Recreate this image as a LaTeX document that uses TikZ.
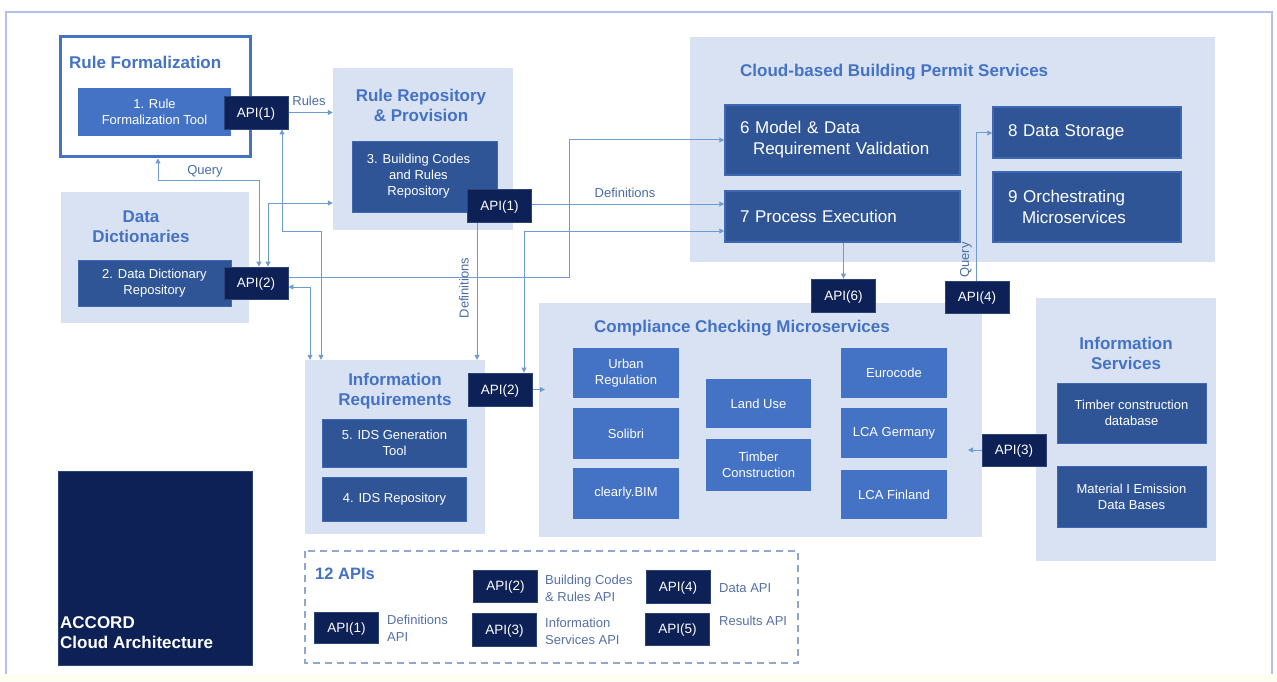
\documentclass[tikz,border=0pt]{standalone}
\usepackage{fontspec}
\setmainfont{Liberation Sans}
\usetikzlibrary{arrows.meta}
\definecolor{panelfill}{HTML}{D9E2F3}
\definecolor{ttl}{HTML}{4472C4}
\definecolor{midb}{HTML}{4472C4}
\definecolor{darkb}{HTML}{2F5597}
\definecolor{darkbline}{HTML}{3E68B4}
\definecolor{navy}{HTML}{0D2157}
\definecolor{navyline}{HTML}{2A4478}
\definecolor{wirec}{HTML}{6E9BD1}
\definecolor{lblc}{HTML}{4A6DA7}
\definecolor{legc}{HTML}{5671A6}
\definecolor{framec}{HTML}{B3C0EC}
\definecolor{dashc}{HTML}{8FA8CC}
\definecolor{creamc}{HTML}{FEFDF1}
\pgfdeclarelayer{panels}
\pgfdeclarelayer{wires}
\pgfsetlayers{panels,wires,main}
\begin{document}
\begin{tikzpicture}[x=1pt,y=-1pt,
  >={Triangle[length=5pt,width=5pt]},
  panel/.style={fill=panelfill, draw=none, inner sep=0},
  ttlfont/.style={font=\fontsize{17}{20}\selectfont\bfseries, text=ttl, align=center, inner sep=0},
  midbox/.style={fill=midb, draw=none, inner sep=0, text=white, align=center,
    font=\fontsize{13}{16}\selectfont},
  darkbox/.style={fill=darkb, draw=darkbline, line width=0.8pt, inner sep=0, text=white, align=center,
    font=\fontsize{13}{16}\selectfont},
  bigbox/.style={fill=darkb, draw=darkbline, line width=1.5pt, text=white, align=left,
    font=\fontsize{17}{21}\selectfont, inner ysep=0},
  apibox/.style={fill=navy, draw=navyline, line width=0.8pt, inner sep=0, text=white,
    minimum width=64, minimum height=33, text height=9.7pt, text depth=0pt,
    font=\fontsize{13.5}{16}\selectfont},
  wire/.style={draw=wirec, line width=1pt},
  lbl/.style={text=lblc, font=\fontsize{13}{15}\selectfont, inner sep=0},
  leg/.style={text=legc, font=\fontsize{13}{17}\selectfont, inner sep=0, align=left, anchor=west}
]
\useasboundingbox (0,0) rectangle (1277,682);

% ---------- page, frame and group panels ----------
\begin{pgfonlayer}{panels}
\fill[white] (0,0) rectangle (1277,682);
\fill[creamc] (0,674) rectangle (1277,682);
\draw[framec, line width=1.5pt] (6,674) -- (6,12) -- (1272,12) -- (1272,674);
\node[fill=white, draw=ttl, line width=3pt, inner sep=0, minimum width=190, minimum height=120] (rf) at (155,97) {};
\node[panel, minimum width=180, minimum height=162] (rr) at (423,149) {};
\node[panel, minimum width=188, minimum height=131] (dd) at (155,257.5) {};
\node[panel, minimum width=525, minimum height=225] (cb) at (952.5,149.5) {};
\node[panel, minimum width=180, minimum height=174] (ir) at (395,447) {};
\node[panel, minimum width=443, minimum height=234] (cc) at (760.5,420) {};
\node[panel, minimum width=180, minimum height=263] (is) at (1126,429.5) {};
\end{pgfonlayer}

% ---------- group titles ----------
\node[ttlfont, anchor=west] (trf) at (69,62) {Rule Formalization};
\node[ttlfont] (trr) at (421,105.5) {Rule Repository\\\& Provision};
\node[ttlfont] (tdd) at (141,227) {Data\\Dictionaries};
\node[ttlfont, anchor=west] (tcb) at (740,72) {Cloud-based Building Permit Services};
\node[ttlfont] (tir) at (395,391.5) {Information\\Requirements};
\node[ttlfont] (tcc) at (742,328) {Compliance Checking Microservices};
\node[ttlfont] (tis) at (1126,353) {Information\\Services};

% ---------- components ----------
\node[midbox, minimum width=153, minimum height=48] (b1) at (154.5,112) {1. Rule\\Formalization Tool};
\node[darkbox, minimum width=145, minimum height=71] (b3) at (424.5,176.5) {\hspace*{-12pt}3. Building Codes\\\hspace*{-12pt}and Rules\\\hspace*{-12pt}Repository};
\node[darkbox, minimum width=153, minimum height=46] (b2) at (154.5,283) {2. Data Dictionary\\Repository};

\node[bigbox, text width=205pt, inner xsep=15pt, minimum height=70] (b6) at (842.5,140) {6 Model \& Data\\\hspace*{13pt}Requirement Validation};
\node[bigbox, text width=205pt, inner xsep=15pt, minimum height=51] (b7) at (842.5,216.5) {7 Process Execution};
\node[bigbox, text width=158pt, inner xsep=15pt, minimum height=51] (b8) at (1087,132.5) {8 Data Storage};
\node[bigbox, text width=158pt, inner xsep=15pt, minimum height=70] (b9) at (1087,207) {9 Orchestrating\\\hspace*{14pt}Microservices};

\node[midbox, minimum width=106, minimum height=50] (ur) at (626,373) {Urban\\Regulation};
\node[midbox, minimum width=106, minimum height=51] (so) at (626,433.5) {Solibri};
\node[midbox, minimum width=106, minimum height=51] (cl) at (626,493.5) {clearly.BIM};
\node[midbox, minimum width=105, minimum height=49] (lu) at (758.5,403.5) {Land Use};
\node[midbox, minimum width=105, minimum height=52] (tc) at (758.5,465) {Timber\\Construction};
\node[midbox, minimum width=106, minimum height=50] (eu) at (894,373) {Eurocode};
\node[midbox, minimum width=106, minimum height=50] (lg) at (894,433) {LCA Germany};
\node[midbox, minimum width=106, minimum height=49] (lf) at (894,494.5) {LCA Finland};

\node[darkbox, minimum width=144, minimum height=48] (b5) at (394.5,443) {5. IDS Generation\\Tool};
\node[darkbox, minimum width=144, minimum height=44] (b4) at (394.5,499) {4. IDS Repository};

\node[darkbox, minimum width=149, minimum height=60] (tdb) at (1131.5,413) {Timber construction\\database};
\node[darkbox, minimum width=149, minimum height=61] (med) at (1131.5,496.5) {Material I Emission\\Data Bases};

% ---------- API endpoints ----------
\node[apibox] (a1a) at (256,112.5) {API(1)};
\node[apibox] (a1b) at (499.5,205.5) {API(1)};
\node[apibox, minimum height=32] (a2a) at (256,283) {API(2)};
\node[apibox] (a2b) at (500,389.5) {API(2)};
\node[apibox] (a6) at (843.5,295.5) {API(6)};
\node[apibox, minimum height=32] (a4) at (977,297) {API(4)};
\node[apibox, minimum height=32] (a3) at (1014,450) {API(3)};

% ---------- title block ----------
\node[fill=navy, draw=navyline, line width=0.8pt, minimum width=194, minimum height=194, inner sep=0] (acc) at (155,568) {};
\node[anchor=west, align=left, text=white, inner sep=0, font=\fontsize{17}{20}\selectfont\bfseries] (acct) at (60,633) {ACCORD\\Cloud Architecture};

% ---------- connectors ----------
\coordinate (q1) at (158,180);
\coordinate (q2) at (259,180);
\coordinate (r1) at (268,203);
\coordinate (p1) at (282,231);
\coordinate (p2) at (321,231);
\coordinate (s1) at (310,287);
\coordinate (v1) at (569,277);
\coordinate (v2) at (569,140);
\coordinate (w1) at (524,231);
\coordinate (d1) at (477,204);
\coordinate (k1) at (976,133);
\coordinate (c2) at (545,389.5);
\coordinate (c3) at (968,450);

\begin{pgfonlayer}{wires}
\draw[wire,->] (a1a.east) -- (a1a.east -| rr.west);
\draw[wire,<->] (q1 |- rf.south) -- (q1) -- (q2) -- (q2 |- a2a.north);
\draw[wire,<->] (r1 |- a2a.north) -- (r1) -- (r1 -| rr.west);
\draw[wire,<->] (p1 |- a1a.south) -- (p1) -- (p2) -- (p2 |- ir.north);
\draw[wire,<->] (s1 -| a2a.east) -- (s1) -- (s1 |- ir.north);
\draw[wire,->] (v1 -| a2a.east) -- (v1) -- (v2) -- (v2 -| b6.west);
\draw[wire,->] (d1 -| a1b.east) -- (d1 -| b7.west);
\draw[wire,->] (d1 |- a1b.south) -- (d1 |- ir.north);
\draw[wire,<->] (w1 |- a2b.north) -- (w1) -- (w1 -| b7.west);
\draw[wire,->] (a2b.east) -- (c2);
\draw[wire,->] (a6.north |- b7.south) -- (a6.north);
\draw[wire,->] (k1 |- a4.north) -- (k1) -- (k1 -| b8.west);
\draw[wire,->] (a3.west) -- (c3);
\end{pgfonlayer}

% ---------- connector labels ----------
\node[lbl] (lr) at (309,101) {Rules};
\node[lbl] (lq) at (205,171) {Query};
\node[lbl] (ld) at (625,193) {Definitions};
\node[lbl, rotate=90] (ldv) at (464,288) {Definitions};
\node[lbl, rotate=90] (lqv) at (966,260) {Query};

% ---------- legend ----------
\draw[dashc, line width=1.5pt, dash pattern=on 7pt off 5pt] (305,551) rectangle (798,663);
\node[anchor=west, inner sep=0, text=ttl, font=\fontsize{16.5}{20}\selectfont\bfseries] (l12) at (315,574) {12 APIs};
\node[apibox, minimum height=32] (la2) at (505.5,586) {API(2)};
\node[apibox] (la4) at (678,586.5) {API(4)};
\node[apibox, minimum height=31] (la1) at (346.5,627.5) {API(1)};
\node[apibox] (la3) at (504.5,629.5) {API(3)};
\node[apibox, minimum height=32] (la5) at (677.5,629) {API(5)};
\node[leg] (tl2) at (545,588.5) {Building Codes\\\& Rules API};
\node[leg] (tl4) at (719,588) {Data API};
\node[leg] (tl1) at (387,628.5) {Definitions\\API};
\node[leg] (tl3) at (545,631) {Information\\Services API};
\node[leg] (tl5) at (719,621) {Results API};
\end{tikzpicture}
\end{document}
